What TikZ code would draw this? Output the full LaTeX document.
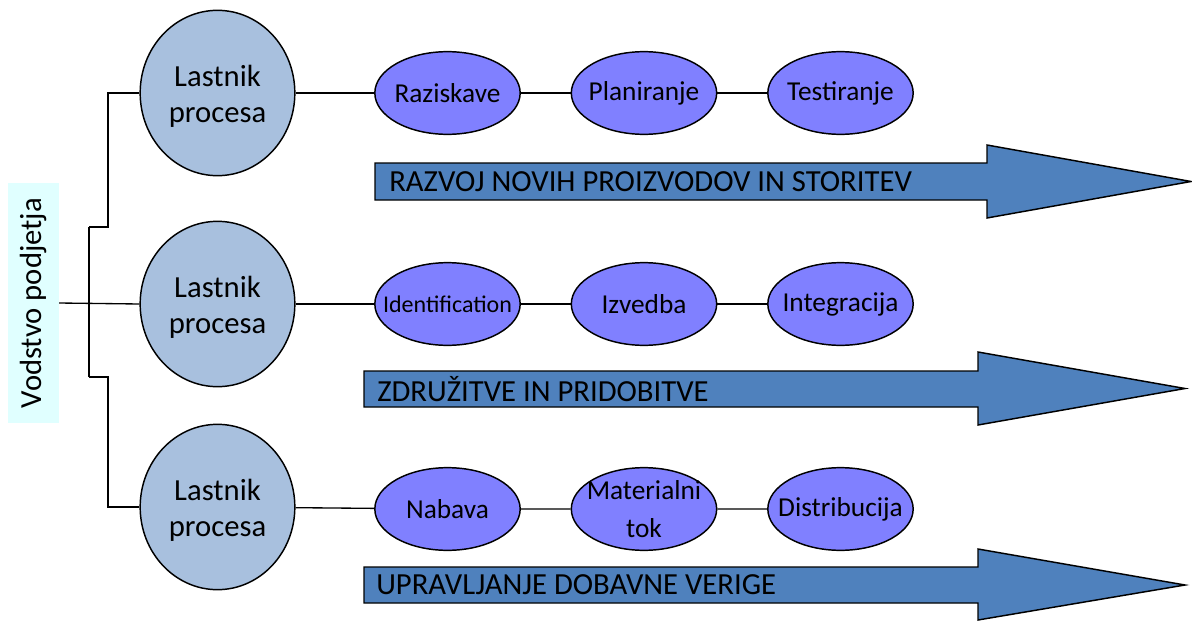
\documentclass[tikz,border=0pt]{standalone}
\usepackage{fontspec}
\setmainfont{Carlito}
\usetikzlibrary{shapes.geometric}
\definecolor{ownerfill}{HTML}{A8C0DE}
\definecolor{stepfill}{HTML}{8080FF}
\definecolor{flowfill}{HTML}{4F81BD}
\definecolor{leadfill}{HTML}{E0FFFF}
\begin{document}
\begin{tikzpicture}[x=0.75pt,y=-0.75pt,
  owner/.style={ellipse, draw, line width=1.1pt, fill=ownerfill,
    minimum width=116pt, minimum height=124pt, inner sep=0pt,
    label={[ownerlbl]center:Lastnik\\procesa}},
  ownerlbl/.style={inner sep=0pt, align=center, yshift=-2.5pt,
    font=\fontsize{23}{27.5}\selectfont},
  stepnode/.style={ellipse, draw, line width=1.1pt, fill=stepfill,
    minimum width=109pt, minimum height=62pt, inner sep=0pt},
  steplbl/.style={inner sep=0pt, align=center,
    font=\fontsize{20.5}{28}\selectfont},
  smalllbl/.style={inner sep=0pt, font=\fontsize{18}{22}\selectfont},
  flow/.style={draw, line width=1.1pt, fill=flowfill, line join=miter},
  flowtext/.style={anchor=west, inner sep=0pt, font=\fontsize{23}{27}\selectfont},
  link/.style={line width=1pt}]
\useasboundingbox (0,0) rectangle (1192,621);

% process arrows
\draw[flow] (375,163) -- (987,163) -- (987,145) -- (1191,181.5) -- (987,218) -- (987,200) -- (375,200) -- cycle;
\draw[flow] (364,371) -- (978,371) -- (978,352) -- (1185,388.5) -- (978,425) -- (978,407) -- (364,407) -- cycle;
\draw[flow] (364,567) -- (978,567) -- (978,549) -- (1185,585) -- (978,620) -- (978,603) -- (364,603) -- cycle;
\node[flowtext] (f1) at (389,182) {RAZVOJ NOVIH PROIZVODOV IN STORITEV};
\node[flowtext] (f2) at (377,389) {ZDRUŽITVE IN PRIDOBITVE};
\node[flowtext] (f3) at (376,585) {UPRAVLJANJE DOBAVNE VERIGE};

% management box
\node[fill=leadfill, minimum width=38pt, minimum height=180pt, inner sep=0pt,
  font=\fontsize{23}{27}\selectfont] (lead) at (33.5,303)
  {\rotatebox{90}{Vodstvo podjetja}};

% process owners
\node[owner] (c1) at (217.5,93) {};
\node[owner] (c2) at (217.5,304) {};
\node[owner] (c3) at (217.5,507) {};

% process steps
\node[stepnode, label={[steplbl]center:Raziskave}] (s11) at (447.5,93) {};
\node[stepnode, label={[steplbl]center:Planiranje}] (s12) at (644,93) {};
\node[stepnode, label={[steplbl]center:Testiranje}] (s13) at (840.5,93) {};
\node[stepnode, label={[smalllbl]center:Identification}] (s21) at (447.5,304) {};
\node[stepnode, label={[steplbl]center:Izvedba}] (s22) at (644,304) {};
\node[stepnode, label={[steplbl]center:Integracija}] (s23) at (840.5,304) {};
\node[stepnode, label={[steplbl]center:Nabava}] (s31) at (447.5,509) {};
\node[stepnode, label={[steplbl]center:Materialni\\tok}] (s32) at (644,509) {};
\node[stepnode, label={[steplbl]center:Distribucija}] (s33) at (840.5,509) {};

% connectors
\coordinate (jt) at (89,227);
\coordinate (jb) at (89,377);
\draw[link] (lead.east) -- (c2.west);
\draw[link] (jt) -- (jb);
\draw[link] (jt) -- ++(19,0) |- (c1.west);
\draw[link] (jb) -- ++(19,0) |- (c3.west);
\draw[link] (c1) -- (s11) -- (s12) -- (s13);
\draw[link] (c2) -- (s21) -- (s22) -- (s23);
\draw[link] (c3) -- (s31) -- (s32) -- (s33);
\end{tikzpicture}
\end{document}
